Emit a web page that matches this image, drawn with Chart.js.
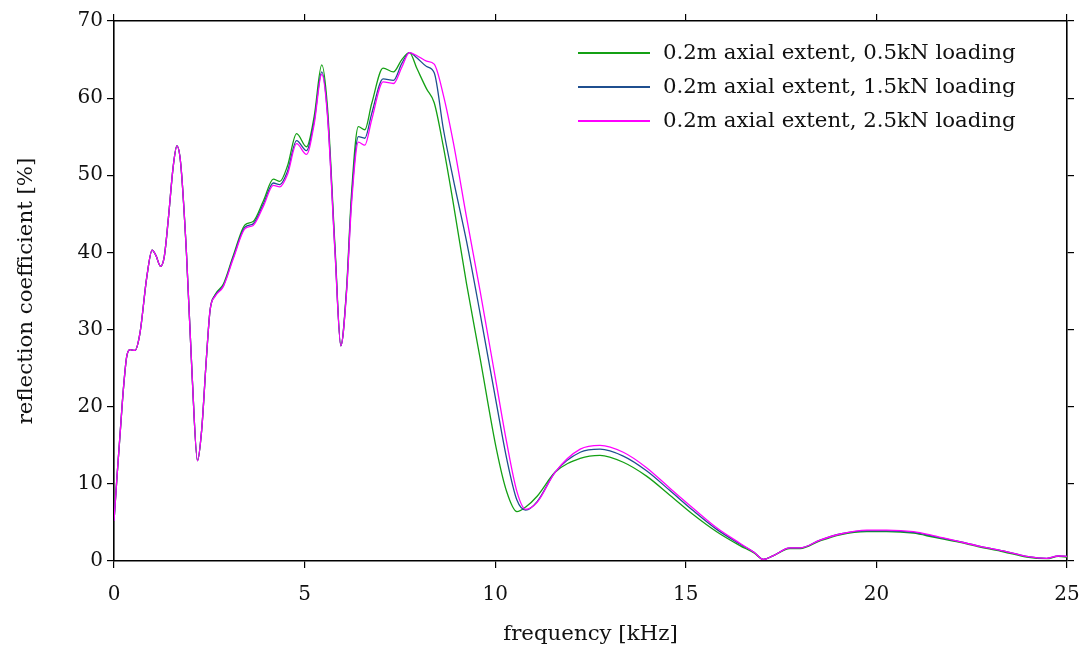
<!DOCTYPE html>
<html>
<head>
<meta charset="utf-8">
<script src="https://cdn.jsdelivr.net/npm/chart.js@4/dist/chart.umd.min.js"></script>
<style>
  body { margin: 0; background: #fff; }
  #wrap { position: relative; width: 1085px; height: 650px; }
  #legend { position: absolute; left: 578px; top: 37px; font: 21.3px "DejaVu Serif", serif; color: #111; }
  #legend div { position: relative; height: 34px; line-height: 30px; white-space: nowrap; padding-left: 85px; }
  #legend span.sw { position: absolute; left: 0; top: 15px; width: 72px; height: 2px; }
</style>
</head>
<body>
<div id="wrap">
  <canvas id="c" width="1085" height="650"></canvas>
  <div id="legend"></div>
</div>
<script>
// frequency grid [kHz]
const freq = [0, 0.08, 0.16, 0.25, 0.33, 0.42, 0.55, 0.68, 0.86, 1.0, 1.1, 1.22, 1.32, 1.43, 1.55, 1.65, 1.75, 1.9, 2.05, 2.19,
  2.3, 2.42, 2.52, 2.65, 2.87, 3.13, 3.44, 3.65, 3.92, 4.18, 4.35, 4.55, 4.79, 5.05, 5.25, 5.45, 5.6, 5.8, 5.95, 6.1,
  6.23, 6.41, 6.58, 6.76, 7.06, 7.33, 7.55, 7.75, 7.95, 8.2, 8.4, 8.64, 8.9, 9.25, 9.6, 10.04, 10.3, 10.57, 10.8, 11.1,
  11.57, 12.23, 12.75, 13.36, 13.97, 14.59, 15.2, 15.81, 16.42, 16.8, 17.03, 17.3, 17.73, 18.0, 18.52, 19.05, 19.75, 20.27, 20.97, 21.49,
  22.1, 22.72, 23.33, 23.94, 24.47, 24.77, 25.0];

// reflection coefficient [%]
const load05 = [5.2, 11, 16.5, 22.5, 26.4, 27.4, 27.3, 29.5, 36.8, 40.3, 39.6, 38.2, 39.5, 44.6, 51, 53.8, 51.5, 40, 24, 13.0,
  17, 26, 32.5, 34.5, 35.9, 39.6, 43.6, 44.0, 46.7, 49.5, 49.2, 51.2, 55.4, 53.7, 57.6, 64.3, 58.8, 40.5, 27.9, 35.3,
  47.6, 56.3, 55.9, 59.3, 63.9, 63.4, 65.0, 65.9, 63.8, 61.2, 59.4, 53.7, 46.4, 35.9, 26.4, 14.3, 9.0, 6.4, 7.0, 8.4,
  11.5, 13.3, 13.7, 12.8, 11.0, 8.5, 6.0, 3.8, 2.0, 1.0, 0.2, 0.7, 1.6, 1.6, 2.6, 3.4, 3.8, 3.8, 3.6, 3.1,
  2.5, 1.8, 1.2, 0.5, 0.3, 0.6, 0.5];

const load15 = [5.2, 11, 16.5, 22.5, 26.4, 27.4, 27.3, 29.5, 36.8, 40.3, 39.6, 38.2, 39.5, 44.6, 51, 53.8, 51.5, 40, 24, 13.0,
  17, 26, 32.5, 34.4, 35.7, 39.4, 43.3, 43.7, 46.3, 49.0, 48.8, 50.5, 54.5, 53.2, 57.0, 63.4, 58.0, 40.0, 27.9, 35.0,
  46.8, 55.0, 54.8, 58.0, 62.5, 62.3, 64.5, 65.9, 65.2, 64.1, 63.3, 56.0, 49.5, 41.4, 32.2, 20.2, 13.3, 7.9, 6.6, 7.7,
  11.5, 14.1, 14.5, 13.6, 11.7, 9.1, 6.5, 4.1, 2.2, 1.1, 0.2, 0.7, 1.7, 1.7, 2.7, 3.5, 3.9, 3.9, 3.7, 3.2,
  2.6, 1.9, 1.3, 0.6, 0.35, 0.65, 0.6];

const load25 = [5.2, 11, 16.5, 22.5, 26.4, 27.4, 27.3, 29.5, 36.8, 40.3, 39.6, 38.2, 39.5, 44.6, 51, 53.8, 51.5, 40, 24, 13.0,
  17, 26, 32.5, 34.3, 35.6, 39.2, 43.1, 43.5, 46.0, 48.7, 48.5, 50.1, 54.1, 52.7, 56.6, 63.1, 57.7, 39.8, 27.9, 34.8,
  46.2, 54.3, 53.9, 57.2, 62.1, 61.9, 64.0, 65.9, 65.5, 64.8, 64.4, 60.4, 54.3, 44.5, 35.1, 22.7, 15.4, 9.0, 6.7, 7.6,
  11.5, 14.5, 15.0, 14.1, 12.1, 9.4, 6.8, 4.3, 2.3, 1.1, 0.2, 0.7, 1.7, 1.7, 2.7, 3.5, 4.0, 4.0, 3.8, 3.3,
  2.6, 1.9, 1.3, 0.6, 0.35, 0.65, 0.6];

const seriesLabels = ['0.2m axial extent, 0.5kN loading', '0.2m axial extent, 1.5kN loading', '0.2m axial extent, 2.5kN loading'];
const seriesColors = ['#14a014', '#1f4f8f', '#ff00ff'];
const xTicks = [0, 5, 10, 15, 20, 25];

const FONT = 'DejaVu Serif';
const pts = ys => freq.map((f, i) => ({ x: f, y: ys[i] }));

const datasets = [load05, load15, load25].map((ys, i) => ({
  label: seriesLabels[i],
  data: pts(ys),
  borderColor: seriesColors[i],
  borderWidth: 1.3,
  pointRadius: 0,
  cubicInterpolationMode: 'monotone',
  order: 2 - i
}));

// html legend
document.getElementById('legend').innerHTML = seriesLabels.map((l, i) =>
  `<div><span class="sw" style="background-color:${seriesColors[i]}"></span>${l}</div>`).join('');

const tickGrid = { drawOnChartArea: false, tickLength: 7, color: '#000', lineWidth: 1.2 };
const border = { display: true, color: '#000', width: 1.6 };

new Chart(document.getElementById('c'), {
  type: 'line',
  data: { datasets },
  options: {
    responsive: false,
    animation: false,
    layout: { padding: 0 },
    plugins: { legend: { display: false }, tooltip: { enabled: false } },
    scales: {
      x: {
        type: 'linear', min: 0, max: 25,
        afterBuildTicks: s => { s.ticks = xTicks.map(v => ({ value: v })); },
        afterFit: s => { s.height = 89; s.paddingLeft = 0; s.paddingRight = 0; },
        grid: tickGrid, border,
        ticks: { color: '#111', font: { family: FONT, size: 20 }, padding: 15, maxRotation: 0 },
        title: { display: true, text: 'frequency [kHz]', color: '#111', font: { family: FONT, size: 21.3 }, padding: { top: 14, bottom: 3 } }
      },
      xTop: {
        type: 'linear', position: 'top', min: 0, max: 25,
        afterBuildTicks: s => { s.ticks = xTicks.map(v => ({ value: v })); },
        afterFit: s => { s.height = 21; s.paddingLeft = 0; s.paddingRight = 0; },
        grid: tickGrid, border,
        ticks: { display: false }
      },
      y: {
        min: 0, max: 70,
        afterFit: s => { s.width = 114; s.paddingTop = 0; s.paddingBottom = 0; },
        grid: tickGrid, border,
        ticks: { stepSize: 10, color: '#111', font: { family: FONT, size: 20 }, padding: 4 },
        title: { display: true, text: 'reflection coefficient [%]', color: '#111', font: { family: FONT, size: 21.3 }, padding: { top: 14, bottom: 4 } }
      },
      yRight: {
        position: 'right', min: 0, max: 70,
        afterFit: s => { s.width = 18; s.paddingTop = 0; s.paddingBottom = 0; },
        grid: tickGrid, border,
        ticks: { display: false, stepSize: 10 }
      }
    }
  }
});
</script>
</body>
</html>
